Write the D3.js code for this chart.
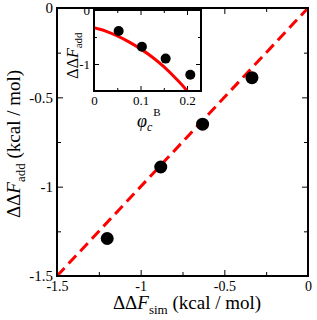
<!DOCTYPE html>
<html lang="en">
<head>
<meta charset="UTF-8">
<title>ddF add vs sim</title>
<script src="https://d3js.org/d3.v7.min.js"></script>
<style>
    body { margin: 0; background: #fff; }
    svg { display: block; font-family: "Liberation Serif", "DejaVu Serif", serif; }
    text { font-family: "Liberation Serif", "DejaVu Serif", serif; }
    .frame { fill: none; stroke: #000; stroke-width: 2; }
    .axis path { display: none; }
    .axis line { stroke: #000; stroke-width: 1; }
    .axis text { fill: #000; }
</style>
</head>
<body>
<svg width="317" height="320"></svg>
<script>
    // main panel: simulated vs additive free energy change
    const simVals = [-1.2, -0.88, -0.63, -0.335];
    const addVals = [-1.29, -0.89, -0.65, -0.39];
    const mainMajor = [-1.5, -1, -0.5, 0];
    const mainMinor = [-1.25, -0.75, -0.25];
    const diagLine = [-1.5, 0];

    // inset: ddF_add against phi_c^B
    const phiVals = [0.053, 0.103, 0.154, 0.207];
    const insetVals = [-0.39, -0.68, -0.9, -1.2];
    const fitPhi = [0, 0.025, 0.05, 0.075, 0.1, 0.125, 0.15, 0.175, 0.2, 0.205];
    const fitVals = [-0.33, -0.39, -0.48, -0.59, -0.72, -0.87, -1.05, -1.26, -1.5, -1.56];
    const insetXMajor = [0, 0.1, 0.2];
    const insetXMinor = [0.05, 0.15];
    const insetYMajor = [0, -1];
    const insetYMinor = [-0.5];

    const svg = d3.select("svg");
    const fmt = d => String(d);
    const serif = '"Liberation Serif", "DejaVu Serif", serif';

    // ---- main plot ----
    const L = 57, R = 308, T = 8, B = 276;
    const x = d3.scaleLinear().domain([-1.5, 0]).range([L, R]);
    const y = d3.scaleLinear().domain([-1.5, 0]).range([B, T]);

    function ticks(sel, axisFn, scale, major, minor, big, small, labels, pad, fs) {
        const g = sel.append("g").attr("class", "axis");
        g.call(axisFn(scale).tickValues(major).tickSize(-big).tickPadding(pad)
            .tickFormat(labels ? fmt : ""));
        g.attr("font-family", serif).attr("font-size", fs);
        const g2 = sel.append("g").attr("class", "axis");
        g2.call(axisFn(scale).tickValues(minor).tickSize(-small).tickFormat(""));
    }

    ticks(svg.append("g").attr("transform", `translate(0,${B})`), d3.axisBottom, x, mainMajor, mainMinor, 6, 4, true, 5, 14);
    ticks(svg.append("g").attr("transform", `translate(0,${T})`), d3.axisTop, x, mainMajor, mainMinor, 6, 4, false, 5, 14);
    ticks(svg.append("g").attr("transform", `translate(${L},0)`), d3.axisLeft, y, mainMajor, mainMinor, 6, 4, true, 4, 15);
    ticks(svg.append("g").attr("transform", `translate(${R},0)`), d3.axisRight, y, mainMajor, mainMinor, 6, 4, false, 4, 15);

    svg.append("line")
        .attr("x1", x(diagLine[0])).attr("y1", y(diagLine[0]))
        .attr("x2", x(diagLine[1])).attr("y2", y(diagLine[1]))
        .attr("stroke", "#ff0000").attr("stroke-width", 3)
        .attr("stroke-dasharray", "11,6");

    svg.selectAll(".dot")
        .data(simVals)
        .enter().append("circle")
        .attr("class", "dot")
        .attr("cx", d => x(d))
        .attr("cy", (d, i) => y(addVals[i]))
        .attr("r", 6.5)
        .attr("fill", "#000");

    svg.append("rect").attr("class", "frame")
        .attr("x", L).attr("y", T).attr("width", R - L).attr("height", B - T);

    // axis titles
    const xt = svg.append("text")
        .attr("x", 187).attr("y", 309)
        .attr("text-anchor", "middle").style("font-size", "19px");
    xt.append("tspan").text("ΔΔ");
    xt.append("tspan").attr("font-style", "italic").text("F");
    xt.append("tspan").attr("dy", 5).style("font-size", "13px").text("sim");
    xt.append("tspan").attr("dy", -5).text(" (kcal / mol)");

    const yt = svg.append("text")
        .attr("transform", `translate(20,144) rotate(-90)`)
        .attr("text-anchor", "middle").style("font-size", "19px");
    yt.append("tspan").text("ΔΔ");
    yt.append("tspan").attr("font-style", "italic").text("F");
    yt.append("tspan").attr("dy", 5).style("font-size", "13px").text("add");
    yt.append("tspan").attr("dy", -5).text(" (kcal / mol)");

    // ---- inset ----
    const iL = 94, iR = 201, iT = 10, iB = 91;
    const ix = d3.scaleLinear().domain([0, 0.23]).range([iL, iR]);
    const iy = d3.scaleLinear().domain([-1.5, 0]).range([iB, iT]);

    svg.append("rect").attr("x", iL).attr("y", iT).attr("width", iR - iL).attr("height", iB - iT)
        .attr("fill", "#fff");

    svg.append("clipPath").attr("id", "insetClip")
        .append("rect").attr("x", iL).attr("y", iT).attr("width", iR - iL).attr("height", iB - iT);

    ticks(svg.append("g").attr("transform", `translate(0,${iB})`), d3.axisBottom, ix, insetXMajor, insetXMinor, 5, 3, true, 5, 13);
    ticks(svg.append("g").attr("transform", `translate(0,${iT})`), d3.axisTop, ix, insetXMajor, insetXMinor, 5, 3, false, 5, 13);
    ticks(svg.append("g").attr("transform", `translate(${iL},0)`), d3.axisLeft, iy, insetYMajor, insetYMinor, 5, 3, true, 4, 13);
    ticks(svg.append("g").attr("transform", `translate(${iR},0)`), d3.axisRight, iy, insetYMajor, insetYMinor, 5, 3, false, 4, 13);

    const fitLine = d3.line()
        .x((d, i) => ix(fitPhi[i]))
        .y(d => iy(d))
        .curve(d3.curveMonotoneX);

    svg.append("path")
        .datum(fitVals)
        .attr("d", fitLine)
        .attr("clip-path", "url(#insetClip)")
        .attr("fill", "none")
        .attr("stroke", "#ff0000")
        .attr("stroke-width", 3);

    svg.selectAll(".idot")
        .data(phiVals)
        .enter().append("circle")
        .attr("class", "idot")
        .attr("cx", d => ix(d))
        .attr("cy", (d, i) => iy(insetVals[i]))
        .attr("r", 5)
        .attr("fill", "#000");

    svg.append("rect").attr("class", "frame")
        .attr("x", iL).attr("y", iT).attr("width", iR - iL).attr("height", iB - iT);

    const ixt = svg.append("text")
        .attr("x", 137).attr("y", 127)
        .style("font-size", "18px");
    ixt.append("tspan").attr("font-style", "italic").text("φ");
    ixt.append("tspan").attr("font-style", "italic").attr("dy", 4).style("font-size", "12px").text("c");
    ixt.append("tspan").attr("dx", 1).attr("dy", -15).style("font-size", "11px").text("B");

    const iyt = svg.append("text")
        .attr("transform", `translate(78,${(iT + iB) / 2 + 5}) rotate(-90)`)
        .attr("text-anchor", "middle").style("font-size", "16px");
    iyt.append("tspan").text("ΔΔ");
    iyt.append("tspan").attr("font-style", "italic").text("F");
    iyt.append("tspan").attr("dy", 4).style("font-size", "11px").text("add");
</script>
</body>
</html>
